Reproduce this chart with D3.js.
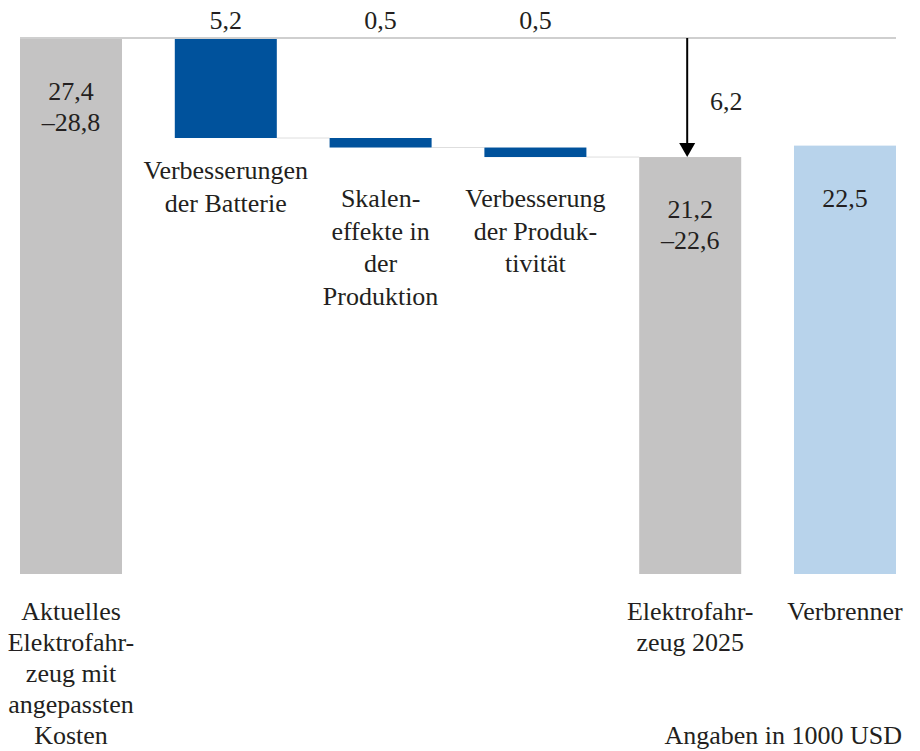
<!DOCTYPE html>
<html>
<head>
<meta charset="utf-8">
<script src="https://cdn.jsdelivr.net/npm/d3@7"></script>
</head>
<body style="margin:0">
<svg id="chart" width="920" height="751"></svg>
<script>
// Cost bridge: current EV -> EV 2025, compared with combustion car (in 1000 USD)
const categories = ["aktuell", "batterie", "skalen", "produktivitaet", "ev2025", "verbrenner"];
const kinds = ["total", "step", "step", "step", "total", "compare"];
// totals given as ranges (low, high); steps as reductions
const rangeLow  = [27.4, null, null, null, 21.2, null];
const rangeHigh = [28.8, null, null, null, 22.6, null];
const stepValues = [null, 5.2, 0.5, 0.5, null, null];
const compareValues = [null, null, null, null, null, 22.5];
const totalReduction = 6.2;

const valueLabels = [["27,4", "–28,8"], ["5,2"], ["0,5"], ["0,5"], ["21,2", "–22,6"], ["22,5"]];
const categoryLabels = [
  ["Aktuelles", "Elektrofahr-", "zeug mit", "angepassten", "Kosten"],
  ["Verbesserungen", "der Batterie"],
  ["Skalen-", "effekte in", "der", "Produktion"],
  ["Verbesserung", "der Produk-", "tivität"],
  ["Elektrofahr-", "zeug 2025"],
  ["Verbrenner"]
];
const unitNote = "Angaben in 1000 USD";

const colors = { total: "#c4c3c3", step: "#00529c", compare: "#b8d3eb" };
const TEXT_COLOR = "#231f20";

const svg = d3.select("#chart")
  .attr("font-family", "Liberation Serif")
  .style("font-family", '"Liberation Serif"');
const lineH = 32.5;
const bottomLineH = 31;

const x = d3.scaleBand().domain(categories).range([20, 896]).paddingInner(0.341).paddingOuter(0);
const startTotal = (rangeLow[0] + rangeHigh[0]) / 2;
const y = d3.scaleLinear().domain([0, startTotal]).range([574, 39]);

function label(xPos, yPos, t, anchor) {
  return svg.append("text")
    .attr("x", xPos).attr("y", yPos)
    .attr("font-size", 26)
    .style("font-family", '"Liberation Serif"')
    .attr("text-anchor", anchor || "middle")
    .attr("fill", TEXT_COLOR)
    .text(t);
}

// build bar extents
let running = startTotal;
const bars = categories.map((c, i) => {
  const k = kinds[i];
  let top, bottom;
  if (k === "total") {
    const v = (rangeLow[i] + rangeHigh[i]) / 2;
    top = v; bottom = 0; running = v;
  } else if (k === "step") {
    top = running; bottom = running - stepValues[i]; running = bottom;
  } else {
    top = compareValues[i]; bottom = 0;
  }
  return { c, i, k, top, bottom };
});

// top reference line
svg.append("line")
  .attr("x1", x.range()[0]).attr("x2", x.range()[1])
  .attr("y1", y(startTotal) - 1).attr("y2", y(startTotal) - 1)
  .attr("stroke", "#cfcfcf").attr("stroke-width", 2);

// connectors between step bars
bars.forEach((b, i) => {
  if (b.k === "step" && i + 1 < bars.length) {
    svg.append("line")
      .attr("x1", x(b.c) + x.bandwidth()).attr("x2", x(bars[i + 1].c))
      .attr("y1", y(b.bottom)).attr("y2", y(b.bottom))
      .attr("stroke", "#dedede").attr("stroke-width", 1);
  }
});

svg.selectAll("rect.bar").data(bars).join("rect")
  .attr("class", "bar")
  .attr("x", d => x(d.c))
  .attr("width", x.bandwidth())
  .attr("y", d => y(d.top))
  .attr("height", d => y(d.bottom) - y(d.top))
  .attr("fill", d => colors[d.k]);

// value labels
bars.forEach((b, i) => {
  const cx = x(b.c) + x.bandwidth() / 2;
  const baseY = b.k === "step" ? 29 : y(b.top) + 61;
  valueLabels[i].forEach((t, j) => label(cx, baseY + j * 31, t));
});

// category labels
const stepLabelBase = { batterie: 179, skalen: 207, produktivitaet: 207 };
bars.forEach((b, i) => {
  const cx = x(b.c) + x.bandwidth() / 2;
  const isStep = b.k === "step";
  const baseY = isStep ? stepLabelBase[b.c] : 620;
  const lh = isStep ? lineH : bottomLineH;
  categoryLabels[i].forEach((t, j) => label(cx, baseY + j * lh, t));
});

// total reduction arrow
const ev = bars[4];
const ax = x(ev.c) + x.bandwidth() / 2 - 3;
const yStart = y(startTotal) - 1;
const yEnd = y(startTotal - totalReduction);
svg.append("line").attr("x1", ax).attr("x2", ax)
  .attr("y1", yStart).attr("y2", yEnd - 12)
  .attr("stroke", "#000").attr("stroke-width", 2);
svg.append("path")
  .attr("d", `M${ax - 8},${yEnd - 14} L${ax + 8},${yEnd - 14} L${ax},${yEnd} Z`)
  .attr("fill", "#000");
label(ax + 39, 110, "6,2");

// unit note
label(902, 744, unitNote, "end");
</script>
</body>
</html>
